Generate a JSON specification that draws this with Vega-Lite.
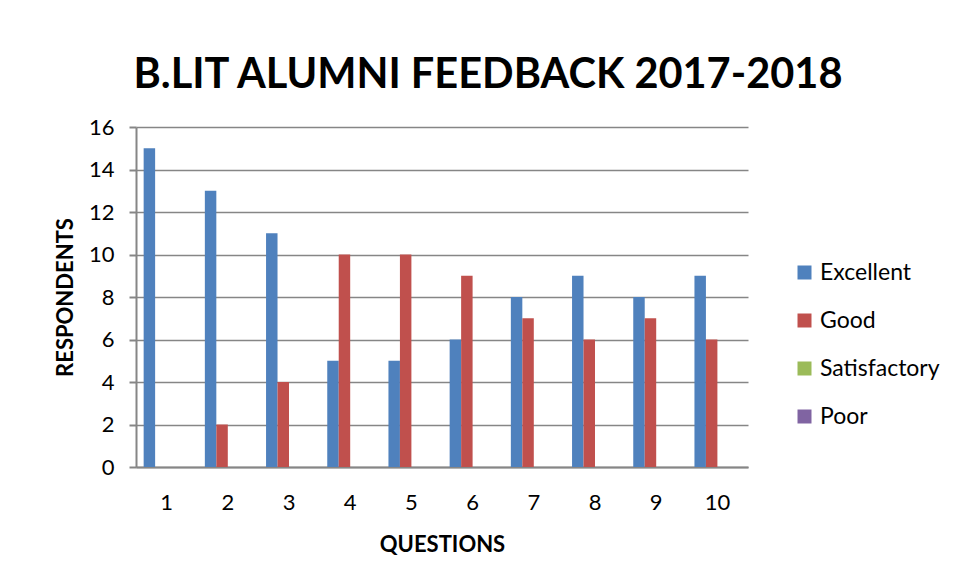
{
  "$schema": "https://vega.github.io/schema/vega-lite/v6.json",
  "width": 612,
  "height": 340,
  "autosize": {"type": "none"},
  "padding": {"left": 136, "top": 127, "right": 207, "bottom": 115},
  "background": "white",
  "title": {"text": "B.LIT ALUMNI FEEDBACK 2017-2018", "fontSize": 41.5, "font": "Lato", "fontWeight": "bold", "color": "#000000", "anchor": "middle", "offset": 20, "dx": 46},
  "data": {"values": [
    {"Question": 1, "Rating": "Excellent", "Count": 15}, {"Question": 1, "Rating": "Good", "Count": 0}, {"Question": 1, "Rating": "Satisfactory", "Count": 0}, {"Question": 1, "Rating": "Poor", "Count": 0},
    {"Question": 2, "Rating": "Excellent", "Count": 13}, {"Question": 2, "Rating": "Good", "Count": 2}, {"Question": 2, "Rating": "Satisfactory", "Count": 0}, {"Question": 2, "Rating": "Poor", "Count": 0},
    {"Question": 3, "Rating": "Excellent", "Count": 11}, {"Question": 3, "Rating": "Good", "Count": 4}, {"Question": 3, "Rating": "Satisfactory", "Count": 0}, {"Question": 3, "Rating": "Poor", "Count": 0},
    {"Question": 4, "Rating": "Excellent", "Count": 5}, {"Question": 4, "Rating": "Good", "Count": 10}, {"Question": 4, "Rating": "Satisfactory", "Count": 0}, {"Question": 4, "Rating": "Poor", "Count": 0},
    {"Question": 5, "Rating": "Excellent", "Count": 5}, {"Question": 5, "Rating": "Good", "Count": 10}, {"Question": 5, "Rating": "Satisfactory", "Count": 0}, {"Question": 5, "Rating": "Poor", "Count": 0},
    {"Question": 6, "Rating": "Excellent", "Count": 6}, {"Question": 6, "Rating": "Good", "Count": 9}, {"Question": 6, "Rating": "Satisfactory", "Count": 0}, {"Question": 6, "Rating": "Poor", "Count": 0},
    {"Question": 7, "Rating": "Excellent", "Count": 8}, {"Question": 7, "Rating": "Good", "Count": 7}, {"Question": 7, "Rating": "Satisfactory", "Count": 0}, {"Question": 7, "Rating": "Poor", "Count": 0},
    {"Question": 8, "Rating": "Excellent", "Count": 9}, {"Question": 8, "Rating": "Good", "Count": 6}, {"Question": 8, "Rating": "Satisfactory", "Count": 0}, {"Question": 8, "Rating": "Poor", "Count": 0},
    {"Question": 9, "Rating": "Excellent", "Count": 8}, {"Question": 9, "Rating": "Good", "Count": 7}, {"Question": 9, "Rating": "Satisfactory", "Count": 0}, {"Question": 9, "Rating": "Poor", "Count": 0},
    {"Question": 10, "Rating": "Excellent", "Count": 9}, {"Question": 10, "Rating": "Good", "Count": 6}, {"Question": 10, "Rating": "Satisfactory", "Count": 0}, {"Question": 10, "Rating": "Poor", "Count": 0}
  ]},
  "mark": {"type": "bar"},
  "encoding": {
    "x": {
      "field": "Question", "type": "ordinal",
      "scale": {"paddingInner": 0.25, "paddingOuter": 0.125},
      "axis": {
        "title": "QUESTIONS", "titleFont": "Lato", "titleFontSize": 22, "titleFontWeight": "bold", "titleColor": "#000000", "titlePadding": 21,
        "labelAngle": 0, "labelFont": "Lato", "labelFontSize": 22, "labelColor": "#000000", "labelPadding": 25,
        "ticks": false, "domainColor": "#868686", "domainWidth": 2, "grid": false
      }
    },
    "xOffset": {"field": "Rating", "type": "nominal", "sort": ["Excellent", "Good", "Satisfactory", "Poor"]},
    "y": {
      "field": "Count", "type": "quantitative",
      "scale": {"domain": [0, 16], "nice": false},
      "axis": {
        "title": "RESPONDENTS", "titleFont": "Lato", "titleFontSize": 22, "titleFontWeight": "bold", "titleColor": "#000000", "titlePadding": 11,
        "values": [0, 2, 4, 6, 8, 10, 12, 14, 16],
        "labelFont": "Lato", "labelFontSize": 22, "labelColor": "#000000", "labelPadding": 15,
        "tickSize": 7, "tickColor": "#868686", "tickWidth": 2,
        "domainColor": "#868686", "domainWidth": 2,
        "grid": true, "gridColor": "#868686", "gridWidth": 1.6
      }
    },
    "color": {
      "field": "Rating", "type": "nominal",
      "scale": {"domain": ["Excellent", "Good", "Satisfactory", "Poor"], "range": ["#4F81BD", "#C0504D", "#9BBB59", "#8064A2"]},
      "legend": {
        "title": null, "orient": "none", "legendX": 657, "legendY": 134,
        "symbolType": "square", "symbolSize": 196, "symbolStrokeWidth": 0,
        "labelFont": "Lato", "labelFontSize": 23, "labelColor": "#000000", "labelOffset": 4,
        "rowPadding": 24
      }
    }
  },
  "config": {"view": {"stroke": null}}
}
